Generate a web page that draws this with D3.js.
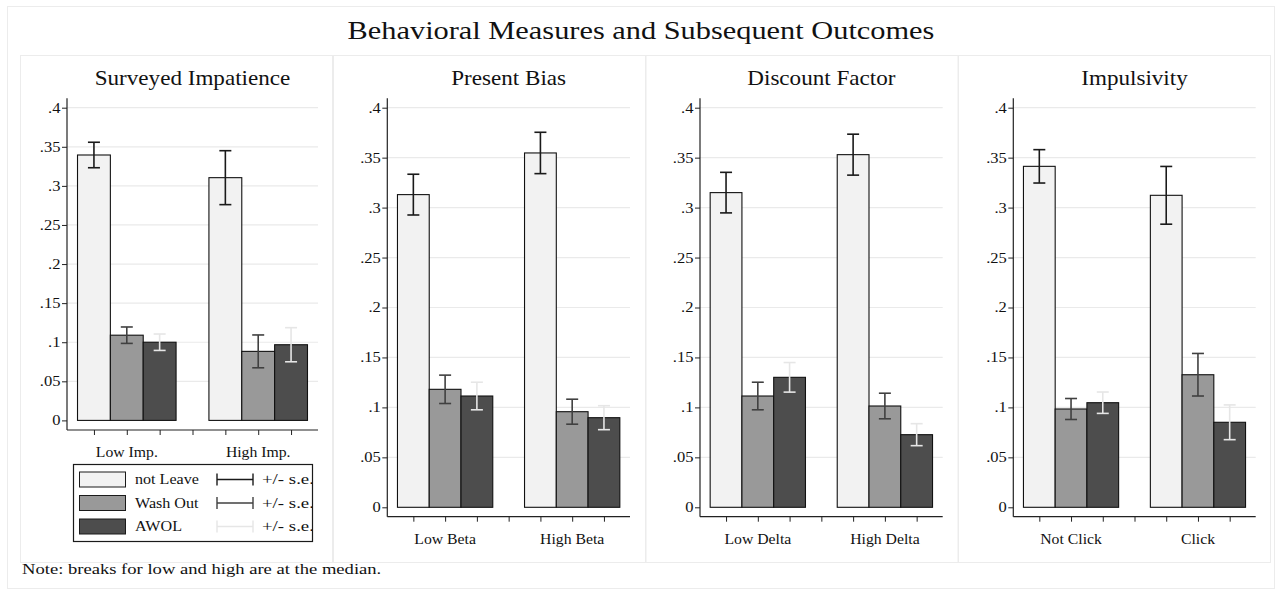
<!DOCTYPE html>
<html>
<head>
<meta charset="utf-8">
<script src="https://cdn.jsdelivr.net/npm/d3@7"></script>
<style>
  body { margin: 0; background: #fff; }
</style>
</head>
<body>
<svg id="chart" width="1281" height="594"></svg>
<script>
// chart values
const chartTitle = "Behavioral Measures and Subsequent Outcomes";
const panelTitles = ["Surveyed Impatience", "Present Bias", "Discount Factor", "Impulsivity"];
const groupLabels = [["Low Imp.", "High Imp."], ["Low Beta", "High Beta"], ["Low Delta", "High Delta"], ["Not Click", "Click"]];
const seriesNames = ["not Leave", "Wash Out", "AWOL"];
const notLeaveMean = [[0.3395, 0.3105], [0.313, 0.3547], [0.315, 0.353], [0.3413, 0.3123]];
const notLeaveSE   = [[0.0163, 0.0345], [0.0204, 0.0207], [0.0203, 0.0205], [0.0167, 0.0289]];
const washOutMean  = [[0.109, 0.0883], [0.1181, 0.0957], [0.1114, 0.1014], [0.0984, 0.1327]];
const washOutSE    = [[0.0105, 0.021], [0.0142, 0.0125], [0.0138, 0.0128], [0.0105, 0.0213]];
const awolMean     = [[0.100, 0.0968], [0.1114, 0.0897], [0.1301, 0.0727], [0.1047, 0.0851]];
const awolSE       = [[0.0105, 0.0218], [0.0138, 0.012], [0.0148, 0.011], [0.0107, 0.0174]];
const yTicks = [0, 0.05, 0.1, 0.15, 0.2, 0.25, 0.3, 0.35, 0.4];
const noteText = "Note: breaks for low and high are at the median.";

const barFill = ["#f2f2f2", "#999999", "#4d4d4d"];
const errColor = ["#1a1a1a", "#404040", "#e6e6e6"];
const means = [notLeaveMean, washOutMean, awolMean];
const ses = [notLeaveSE, washOutSE, awolSE];
const serif = "Liberation Serif, DejaVu Serif, serif";

const svg = d3.select("#chart");

// text drawn a bit wider, the reference font runs wide
function label(g, x, y, str, size, sx, anchor) {
  return g.append("text")
    .attr("transform", "translate(" + x + "," + y + ") scale(" + sx + ",1)")
    .attr("text-anchor", anchor || "start")
    .attr("font-family", serif).attr("font-size", size).attr("fill", "#111")
    .text(str);
}

// outer frame + title band
svg.append("rect").attr("x", 7.5).attr("y", 6.5).attr("width", 1267).attr("height", 582)
  .attr("fill", "none").attr("stroke", "#ececec");
label(svg, 641, 39, chartTitle, 24.5, 1.24, "middle");

// panel layout: frame left, plot left/right, value 0 / 0.4 pixel rows
const panels = [
  {left: 20,  pl: 67,     pr: 318,    y0: 420.4, y4: 107.7, axisY: 430},
  {left: 333, pl: 387.3,  pr: 630,    y0: 507.3, y4: 107.7, axisY: 516.7},
  {left: 645.5, pl: 700,  pr: 942.7,  y0: 507.3, y4: 107.7, axisY: 516.7},
  {left: 958, pl: 1013.3, pr: 1255.7, y0: 507.3, y4: 107.7, axisY: 516.7}
];

panels.forEach(function(p, i) {
  let g = svg.append("g");

  g.append("rect").attr("x", p.left + 0.5).attr("y", 55.5).attr("width", 312).attr("height", 507)
    .attr("fill", "#fff").attr("stroke", "#ececec");

  let x = d3.scaleLinear().domain([0.18, 7.82]).range([p.pl, p.pr]);
  let y = d3.scaleLinear().domain([0, 0.4]).range([p.y0, p.y4]);
  let bw = x(1) - x(0);
  let axisTop = p.y4 - 9.4;

  label(g, (p.pl + p.pr) / 2, 85, panelTitles[i], 21, 1.1, "middle");

  // gridlines
  g.selectAll(".grid").data(yTicks.filter(function(d) { return d > 0; }))
    .enter().append("line")
    .attr("x1", p.pl).attr("x2", p.pr)
    .attr("y1", function(d) { return y(d); }).attr("y2", function(d) { return y(d); })
    .attr("stroke", "#eaeaea").attr("stroke-width", 1.2);

  // y axis
  let yAxis = d3.axisLeft(y).tickValues(yTicks).tickSize(5).tickPadding(2)
    .tickFormat(function(d) { return d === 0 ? "0" : d3.format(".2~f")(d).replace(/^0/, ""); });
  let ya = g.append("g").attr("transform", "translate(" + p.pl + ",0)").call(yAxis)
    .attr("font-family", serif).attr("font-size", 14);
  ya.select(".domain").remove();
  ya.selectAll(".tick line").attr("stroke", "#222");
  ya.selectAll(".tick text").attr("fill", "#111").attr("x", null)
    .attr("transform", "translate(-6.5,0) scale(1.18,1)");
  g.append("line").attr("x1", p.pl).attr("x2", p.pl).attr("y1", axisTop).attr("y2", p.axisY)
    .attr("stroke", "#222").attr("stroke-width", 1.2);

  // bars
  let bars = [];
  [0, 1].forEach(function(gi) {
    [0, 1, 2].forEach(function(si) {
      bars.push({pos: 1 + gi * 4 + si, s: si, v: means[si][i][gi], se: ses[si][i][gi]});
    });
  });

  g.selectAll(".bar").data(bars).enter().append("rect")
    .attr("x", function(d) { return x(d.pos) - bw / 2; })
    .attr("width", bw)
    .attr("y", function(d) { return y(d.v); })
    .attr("height", function(d) { return y(0) - y(d.v); })
    .attr("fill", function(d) { return barFill[d.s]; })
    .attr("stroke", "#111").attr("stroke-width", 1.1);

  // error bars
  let eb = g.selectAll(".err").data(bars).enter().append("g")
    .attr("stroke", function(d) { return errColor[d.s]; }).attr("stroke-width", 1.6);
  eb.append("line")
    .attr("x1", function(d) { return x(d.pos); }).attr("x2", function(d) { return x(d.pos); })
    .attr("y1", function(d) { return y(d.v + d.se); }).attr("y2", function(d) { return y(d.v - d.se); });
  [1, -1].forEach(function(sign) {
    eb.append("line")
      .attr("x1", function(d) { return x(d.pos) - 6; }).attr("x2", function(d) { return x(d.pos) + 6; })
      .attr("y1", function(d) { return y(d.v + sign * d.se); }).attr("y2", function(d) { return y(d.v + sign * d.se); });
  });

  // x axis
  let xAxis = d3.axisBottom(x).tickValues([1, 2, 3, 4, 5, 6, 7]).tickSize(5).tickFormat("");
  let xa = g.append("g").attr("transform", "translate(0," + p.axisY + ")").call(xAxis);
  xa.select(".domain").remove();
  xa.selectAll(".tick line").attr("stroke", "#222");
  g.append("line").attr("x1", p.pl).attr("x2", p.pr).attr("y1", p.axisY).attr("y2", p.axisY)
    .attr("stroke", "#222").attr("stroke-width", 1.2);

  groupLabels[i].forEach(function(d, k) {
    label(g, x(2 + k * 4), p.axisY + 27, d, 15, 1.05, "middle");
  });
});

// legend inside the first panel
let lg = svg.append("g");
lg.append("clipPath").attr("id", "legclip").append("rect")
  .attr("x", 73).attr("y", 464).attr("width", 239).attr("height", 77);
lg.append("rect").attr("x", 73.5).attr("y", 464.5).attr("width", 239).attr("height", 77)
  .attr("fill", "#fff").attr("stroke", "#1a1a1a").attr("stroke-width", 1.2);
let clipped = lg.append("g").attr("clip-path", "url(#legclip)");
seriesNames.forEach(function(name, k) {
  let cy = 479.5 + k * 23.5;
  lg.append("rect").attr("x", 79.5).attr("y", cy - 7.5).attr("width", 46).attr("height", 15)
    .attr("fill", barFill[k]).attr("stroke", "#1a1a1a").attr("stroke-width", 1);
  label(lg, 135, cy + 4.5, name, 14, 1.15);
  let re = lg.append("g").attr("stroke", errColor[k]).attr("stroke-width", 1.4);
  re.append("line").attr("x1", 217).attr("x2", 253).attr("y1", cy).attr("y2", cy);
  re.append("line").attr("x1", 217).attr("x2", 217).attr("y1", cy - 6).attr("y2", cy + 6);
  re.append("line").attr("x1", 253).attr("x2", 253).attr("y1", cy - 6).attr("y2", cy + 6);
  label(clipped, 262, cy + 4.5, "+/- s.e.", 14.5, 1.3);
});

label(svg, 22, 574, noteText, 15.5, 1.2);
</script>
</body>
</html>
